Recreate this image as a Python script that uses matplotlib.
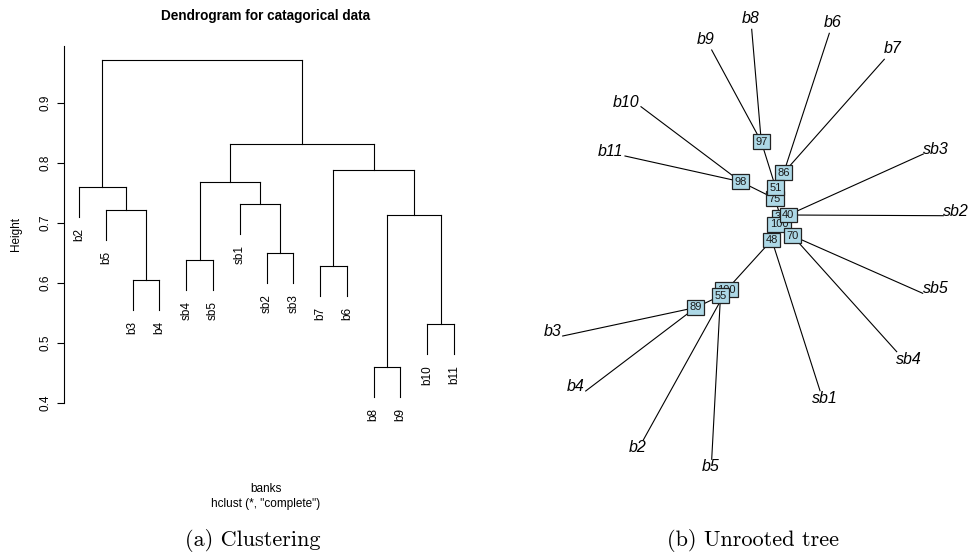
import math
import matplotlib
matplotlib.use("Agg")
import matplotlib.pyplot as plt
from matplotlib.transforms import ScaledTranslation

plt.rcParams['font.family'] = ['Liberation Sans', 'DejaVu Sans']

# ---- (a) hierarchical clustering (hclust, complete linkage) ----
leaf_order = ["b2", "b5", "b3", "b4", "sb4", "sb5", "sb1", "sb2", "sb3",
              "b7", "b6", "b8", "b9", "b10", "b11"]
# merges as in R: leaf names or 1-based index of an earlier merge
merge_left = ["b8", "b10", "b3", "b7", "sb4", "sb2", 1, "b5", "sb1", "b2", 5, 4, 11, 10]
merge_right = ["b9", "b11", "b4", "b6", "sb5", "sb3", 2, 3, 6, 8, 9, 7, 12, 13]
merge_height = [0.460, 0.531, 0.605, 0.628, 0.639, 0.650, 0.713, 0.722,
                0.732, 0.760, 0.769, 0.788, 0.831, 0.972]
hang = 0.05
height_ticks = [0.4, 0.5, 0.6, 0.7, 0.8, 0.9]

# ---- (b) unrooted tree with bootstrap values ----
tip_names = ["b8", "b9", "b6", "b7", "b10", "b11", "sb3", "sb2", "sb5",
             "sb4", "sb1", "b5", "b2", "b4", "b3"]
tip_x = [-0.283, -0.683, 0.493, 1.043, -1.390, -1.550, 1.433, 1.633, 1.427,
         1.167, 0.400, -0.683, -1.367, -1.943, -2.173]
tip_y = [1.887, 1.680, 1.847, 1.587, 1.113, 0.620, 0.640, 0.023, -0.753,
         -1.337, -1.727, -2.413, -2.220, -1.730, -1.180]

node_names = ["n97", "n86", "n98", "n75", "n51", "n32", "n100a", "n40",
              "n70", "n48", "n100b", "n55", "n89"]
node_boot = ["97", "86", "98", "75", "51", "32", "100", "40", "70", "48",
             "100", "55", "89"]
node_x = [-0.187, 0.037, -0.393, -0.050, -0.043, 0.007, -0.010, 0.083,
          0.125, -0.082, -0.533, -0.595, -0.842]
node_y = [0.763, 0.453, 0.363, 0.193, 0.303, 0.005, -0.062, 0.030,
          -0.178, -0.220, -0.717, -0.778, -0.895]

edges = [("n100a", "n32"), ("n100a", "n70"), ("n100a", "n48"),
         ("n32", "n40"), ("n32", "n75"),
         ("n75", "n51"), ("n75", "n98"),
         ("n51", "n97"), ("n51", "n86"),
         ("n97", "b8"), ("n97", "b9"),
         ("n86", "b6"), ("n86", "b7"),
         ("n98", "b10"), ("n98", "b11"),
         ("n40", "sb3"), ("n40", "sb2"),
         ("n70", "sb5"), ("n70", "sb4"),
         ("n48", "sb1"), ("n48", "n100b"),
         ("n100b", "b2"), ("n100b", "n55"),
         ("n55", "b5"), ("n55", "n89"),
         ("n89", "b3"), ("n89", "b4")]

fig = plt.figure(figsize=(9.72, 5.54), dpi=100)

# ------------------------------------------------------------ dendrogram
ax = fig.add_axes([64 / 972, 1 - 403 / 554, 405 / 972, 357 / 554])
ax.set_xlim(0.44, 15.56)
ax.set_ylim(0.4, 0.995)
lw = 0.8
leaf_x = {name: i + 1 for i, name in enumerate(leaf_order)}
pos = {}
for k, (a, b, h) in enumerate(zip(merge_left, merge_right, merge_height), start=1):
    xs = []
    for child in (a, b):
        if isinstance(child, str):
            x = leaf_x[child]
            y_end = h - hang
            ax.plot([x, x], [h, y_end], color="black", lw=lw, clip_on=False)
            ax.annotate(child, (x, y_end), xytext=(0, -8), textcoords="offset points",
                        rotation=90, ha="center", va="top", fontsize=8.5,
                        annotation_clip=False)
        else:
            x, y_c = pos[child]
            ax.plot([x, x], [h, y_c], color="black", lw=lw)
        xs.append(x)
    ax.plot(xs, [h, h], color="black", lw=lw)
    pos[k] = ((xs[0] + xs[1]) / 2, h)

for s in ("top", "right", "bottom"):
    ax.spines[s].set_visible(False)
ax.spines["left"].set_linewidth(lw)
ax.set_xticks([])
ax.set_yticks(height_ticks)
ax.set_yticklabels([str(t) for t in height_ticks])
ax.tick_params(axis="y", labelrotation=90, length=5, width=lw, pad=4, labelsize=8.5)
for lab in ax.get_yticklabels():
    lab.set_va("center")

fig.text(266 / 972, 1 - 16 / 554, "Dendrogram for catagorical data",
         ha="center", va="center", fontsize=9.8, fontweight="bold")
fig.text(16 / 972, 1 - 234 / 554, "Height", rotation=90, ha="center",
         va="center", fontsize=8.5)
fig.text(266 / 972, 1 - 489 / 554, "banks", ha="center", va="center", fontsize=8.5)
fig.text(266 / 972, 1 - 504 / 554, 'hclust (*, "complete")', ha="center",
         va="center", fontsize=8.5)
fig.text(253 / 972, 1 - 540 / 554, "(a) Clustering", ha="center", va="center",
         fontsize=16, family="cmr10")

# ------------------------------------------------------------ unrooted tree
ax2 = fig.add_axes([0.5, 0, 0.5, 1])
ax2.set_xlim(-2.94, 1.92)
ax2.set_ylim(-3.36, 2.18)
ax2.axis("off")

coords = {n: (x, y) for n, x, y in zip(tip_names, tip_x, tip_y)}
coords.update({n: (x, y) for n, x, y in zip(node_names, node_x, node_y)})
parent = {}
for p, c in edges:
    (x0, y0), (x1, y1) = coords[p], coords[c]
    ax2.plot([x0, x1], [y0, y1], color="black", lw=lw)
    parent[c] = p

for name, lab in zip(node_names, node_boot):
    x, y = coords[name]
    ax2.text(x, y, lab, ha="center", va="center", fontsize=8, color="#1a1a1a",
             bbox=dict(boxstyle="square,pad=0.22", fc="#ADD8E6", ec="#222222", lw=0.9),
             zorder=3)

tip_texts = []
for name in tip_names:
    x, y = coords[name]
    t = ax2.text(x, y, name, ha="left", va="baseline", fontsize=11.5, style="italic")
    tip_texts.append(t)

fig.canvas.draw()
renderer = fig.canvas.get_renderer()
for name, t in zip(tip_names, tip_texts):
    x, y = coords[name]
    px, py = coords[parent[name]]
    ang = math.atan2(y - py, x - px)
    w = t.get_window_extent(renderer).width
    a = abs(ang)
    if a > 0.75 * math.pi:
        dx = -1.05 * w
    elif a > math.pi / 4:
        dx = -w * (2 * a / math.pi - 0.5)
    else:
        dx = 0.0
    if math.pi / 4 < ang < 0.75 * math.pi:
        dy = 6.0
    elif -0.75 * math.pi < ang < -math.pi / 4:
        dy = -12.0
    else:
        dy = 0.0
    t.set_transform(ax2.transData + ScaledTranslation(dx / fig.dpi, dy / fig.dpi,
                                                      fig.dpi_scale_trans))

fig.text(753 / 972, 1 - 541 / 554, "(b) Unrooted tree", ha="center", va="center",
         fontsize=16, family="cmr10")

fig.savefig("out.png", dpi=100)
